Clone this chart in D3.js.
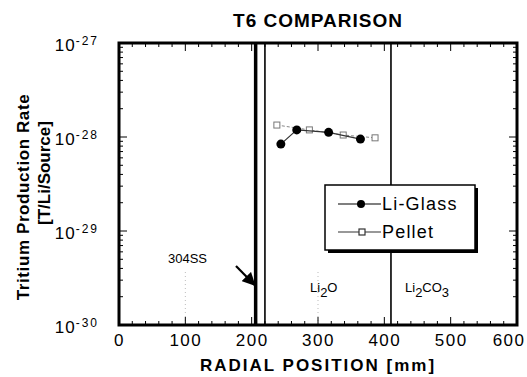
<!DOCTYPE html>
<html>
<head>
<meta charset="utf-8">
<script src="https://d3js.org/d3.v7.min.js"></script>
<style>
  body { margin: 0; background: #fff; }
  text { font-family: "Liberation Sans", Arial, sans-serif; fill: #000; }
</style>
</head>
<body>
<script>
  // values
  const xTicks = [0, 100, 200, 300, 400, 500, 600];
  const yTicks = [1e-30, 1e-29, 1e-28, 1e-27];
  const yExps = ["-30", "-29", "-28", "-27"];
  const liGlassX = [244, 268, 316, 364];
  const liGlassY = [8.4e-29, 1.19e-28, 1.12e-28, 9.5e-29];
  const pelletX = [238, 287, 338, 386];
  const pelletY = [1.34e-28, 1.19e-28, 1.05e-28, 9.8e-29];
  const boundaryX = [206, 220, 410]; // 304SS thick wall, Li2O edge, Li2CO3 edge
  const legendNames = ["Li-Glass", "Pellet"];

  const width = 527, height = 377;
  const margin = {left: 119, right: 10, top: 43, bottom: 52};

  const svg = d3.select("body").append("svg")
    .attr("width", width)
    .attr("height", height);

  const x = d3.scaleLinear().domain([0, 600]).range([margin.left, width - margin.right]);
  const y = d3.scaleLog().domain([1e-30, 1e-27]).range([height - margin.bottom, margin.top]);

  const x0 = x(0), x1 = x(600), y0 = y(1e-30), y1 = y(1e-27);

  // faint dotted grid
  svg.append("g").selectAll("line")
    .data([100, 300])
    .enter().append("line")
    .attr("x1", d => x(d)).attr("x2", d => x(d))
    .attr("y1", y0).attr("y2", y0 - 55)
    .attr("stroke", "#aaa").attr("stroke-width", 0.8)
    .attr("stroke-dasharray", "1,3");

  // minor ticks along x (every 20 mm), inward
  const minorX = d3.range(0, 601, 20);
  svg.append("g").selectAll("line")
    .data(minorX)
    .enter().append("line")
    .attr("x1", d => x(d)).attr("x2", d => x(d))
    .attr("y1", y0).attr("y2", d => y0 - (d % 100 == 0 ? 8 : 4))
    .attr("stroke", "#000").attr("stroke-width", 1);
  svg.append("g").selectAll("line")
    .data(minorX)
    .enter().append("line")
    .attr("x1", d => x(d)).attr("x2", d => x(d))
    .attr("y1", y1).attr("y2", d => y1 + (d % 100 == 0 ? 8 : 4))
    .attr("stroke", "#000").attr("stroke-width", 1);

  // minor ticks along y (log), inward
  const minorY = [];
  [1e-30, 1e-29, 1e-28].forEach(function(dec) {
    for (let k = 1; k < 10; k++) minorY.push(dec * k);
  });
  svg.append("g").selectAll("line")
    .data(minorY)
    .enter().append("line")
    .attr("x1", x0).attr("x2", (d, i) => x0 + (i % 9 == 0 ? 8 : 4))
    .attr("y1", d => y(d)).attr("y2", d => y(d))
    .attr("stroke", "#000").attr("stroke-width", 1);
  svg.append("g").selectAll("line")
    .data(minorY)
    .enter().append("line")
    .attr("x1", x1).attr("x2", (d, i) => x1 - (i % 9 == 0 ? 8 : 4))
    .attr("y1", d => y(d)).attr("y2", d => y(d))
    .attr("stroke", "#000").attr("stroke-width", 1);

  // region boundaries
  svg.append("g").selectAll("line")
    .data(boundaryX)
    .enter().append("line")
    .attr("x1", d => x(d)).attr("x2", d => x(d))
    .attr("y1", y1).attr("y2", y0)
    .attr("stroke", "#000")
    .attr("stroke-width", (d, i) => i == 0 ? 3.5 : 1.6);

  // x axis labels
  const xAxis = d3.axisBottom(x).tickValues(xTicks).tickSize(0).tickPadding(9);
  const gx = svg.append("g")
    .attr("transform", "translate(0," + y0 + ")")
    .call(xAxis);
  gx.select(".domain").remove();
  gx.selectAll("text")
    .attr("font-size", "17px")
    .attr("font-family", "Liberation Sans, Arial, sans-serif")
    .style("letter-spacing", "1.5px");
  // last label pulled in so it stays inside the page
  gx.selectAll(".tick text").filter(d => d == 600)
    .attr("text-anchor", "end").attr("x", 8);

  // y axis labels as 10^n
  const yAxis = d3.axisLeft(y).tickValues(yTicks).tickSize(0).tickPadding(20).tickFormat(() => "");
  const gy = svg.append("g")
    .attr("transform", "translate(" + x0 + ",0)")
    .call(yAxis);
  gy.select(".domain").remove();
  gy.selectAll(".tick text").each(function(d, i) {
    const t = d3.select(this)
      .attr("font-size", "17px")
      .attr("font-family", "Liberation Sans, Arial, sans-serif")
      .attr("x", -20)
      .attr("dy", "0.45em")
      .style("letter-spacing", "1px");
    t.append("tspan").text("10");
    t.append("tspan").attr("dy", "-0.55em").attr("font-size", "12px")
      .style("letter-spacing", "2px").text(yExps[i]);
  });

  // frame
  svg.append("rect")
    .attr("x", x0).attr("y", y1)
    .attr("width", x1 - x0).attr("height", y0 - y1)
    .attr("fill", "none").attr("stroke", "#000").attr("stroke-width", 3);

  // Pellet series
  const pellet = pelletX.map((d, i) => [d, pelletY[i]]);
  const liGlass = liGlassX.map((d, i) => [d, liGlassY[i]]);
  const line = d3.line().x(d => x(d[0])).y(d => y(d[1]));

  svg.append("path").datum(pellet)
    .attr("d", line)
    .attr("fill", "none").attr("stroke", "#888")
    .attr("stroke-width", 1).attr("stroke-dasharray", "3,2");
  svg.append("g").selectAll("rect")
    .data(pellet)
    .enter().append("rect")
    .attr("x", d => x(d[0]) - 3).attr("y", d => y(d[1]) - 3)
    .attr("width", 6).attr("height", 6)
    .attr("fill", "#fff").attr("stroke", "#777").attr("stroke-width", 1);

  // Li-Glass series
  svg.append("path").datum(liGlass)
    .attr("d", line)
    .attr("fill", "none").attr("stroke", "#333").attr("stroke-width", 1.2);
  svg.append("g").selectAll("circle")
    .data(liGlass)
    .enter().append("circle")
    .attr("cx", d => x(d[0])).attr("cy", d => y(d[1]))
    .attr("r", 4.5).attr("fill", "#000");

  // legend with drop shadow
  const lg = svg.append("g").attr("transform", "translate(325,185)");
  lg.append("rect").attr("x", 3).attr("y", 3).attr("width", 150).attr("height", 65).attr("fill", "#000");
  lg.append("rect").attr("x", 0).attr("y", 0).attr("width", 150).attr("height", 65)
    .attr("fill", "#fff").attr("stroke", "#000").attr("stroke-width", 1.5);
  const items = lg.selectAll(".item")
    .data(legendNames)
    .enter().append("g")
    .attr("transform", (d, i) => "translate(0," + (19 + i * 28) + ")");
  items.append("line")
    .attr("x1", 13).attr("x2", 56).attr("y1", 0).attr("y2", 0)
    .attr("stroke", (d, i) => i == 0 ? "#000" : "#333").attr("stroke-width", 1.2);
  items.filter((d, i) => i == 0).append("circle")
    .attr("cx", 36).attr("cy", 0).attr("r", 4).attr("fill", "#000");
  items.filter((d, i) => i == 1).append("rect")
    .attr("x", 34).attr("y", -3).attr("width", 6).attr("height", 6)
    .attr("fill", "#fff").attr("stroke", "#333").attr("stroke-width", 1.2);
  items.append("text")
    .attr("x", 57).attr("y", 0).attr("dy", "0.36em")
    .attr("font-size", "18px").style("letter-spacing", "1.2px")
    .text(d => d);

  // region labels
  svg.append("text").attr("x", 168).attr("y", 263)
    .attr("font-size", "13px").text("304SS");
  svg.append("defs").append("marker")
    .attr("id", "ah").attr("viewBox", "0 0 10 10")
    .attr("refX", 9).attr("refY", 5)
    .attr("markerWidth", 6).attr("markerHeight", 6)
    .attr("orient", "auto")
    .append("path").attr("d", "M0,0 L10,5 L0,10 Z").attr("fill", "#000");
  svg.append("line")
    .attr("x1", 236).attr("y1", 266)
    .attr("x2", x(boundaryX[0]) - 1).attr("y2", 285)
    .attr("stroke", "#000").attr("stroke-width", 2.2)
    .attr("marker-end", "url(#ah)");

  const li2o = svg.append("text").attr("x", 310).attr("y", 292).attr("font-size", "13px");
  li2o.append("tspan").text("Li");
  li2o.append("tspan").attr("dy", 5).text("2");
  li2o.append("tspan").attr("dy", -5).text("O");

  const li2co3 = svg.append("text").attr("x", 405).attr("y", 292).attr("font-size", "13px");
  li2co3.append("tspan").text("Li");
  li2co3.append("tspan").attr("dy", 5).text("2");
  li2co3.append("tspan").attr("dy", -5).text("CO");
  li2co3.append("tspan").attr("dy", 5).text("3");

  // titles
  svg.append("text").attr("x", 318).attr("y", 27)
    .attr("text-anchor", "middle").attr("font-size", "19px").attr("font-weight", "bold")
    .style("letter-spacing", "1px")
    .text("T6  COMPARISON");
  svg.append("text").attr("x", 318).attr("y", 371)
    .attr("text-anchor", "middle").attr("font-size", "17px").attr("font-weight", "bold")
    .style("letter-spacing", "2px")
    .text("RADIAL  POSITION  [mm]");
  svg.append("text")
    .attr("transform", "translate(29,197) rotate(-90)")
    .attr("text-anchor", "middle").attr("font-size", "17px").attr("font-weight", "bold")
    .style("letter-spacing", "0.6px")
    .text("Tritium Production Rate");
  svg.append("text")
    .attr("transform", "translate(50,173) rotate(-90)")
    .attr("text-anchor", "middle").attr("font-size", "17px").attr("font-weight", "bold")
    .text("[T/Li/Source]");
</script>
</body>
</html>
